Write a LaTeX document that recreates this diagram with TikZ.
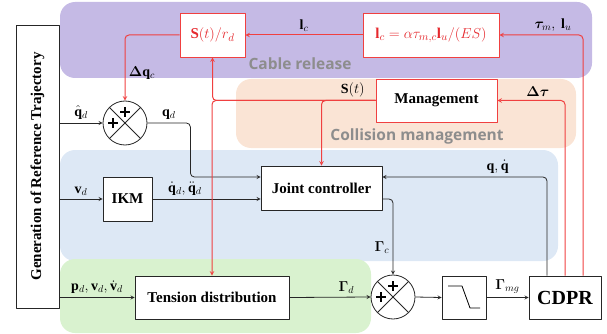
\documentclass[tikz,border=0pt]{standalone}
\usepackage{fontspec}
\setmainfont{Liberation Serif}
\setsansfont{Open Sans}
\usepackage{bm}
\usetikzlibrary{calc}
\definecolor{lila}{RGB}{197,186,229}
\definecolor{peach}{RGB}{250,228,213}
\definecolor{sky}{RGB}{221,232,245}
\definecolor{mint}{RGB}{217,242,207}
\definecolor{lred}{RGB}{240,64,64}
\definecolor{dred}{RGB}{230,40,45}
\definecolor{tgray}{RGB}{128,128,128}
\begin{document}
\begin{tikzpicture}[x=1pt, y=-1pt, font=\fontsize{14}{16}\selectfont, line join=round, >=stealth,
		blk/.style={draw=black!85, fill=white, line width=0.8pt, inner sep=0pt, font=\fontsize{15}{17}\selectfont\bfseries},
		rbox/.style={blk, draw=lred},
		sum/.style={circle, draw=black!85, fill=white, line width=0.8pt, minimum size=44, inner sep=0pt,
			path picture={\draw[line width=0.8pt] (path picture bounding box.north east) -- (path picture bounding box.south west)
				(path picture bounding box.north west) -- (path picture bounding box.south east);}},
		pls/.pic={\draw[line width=1.4pt] (-5,0) -- (5,0) (0,-5) -- (0,5);},
		arr/.style={->, draw=black!85, line width=0.8pt, rounded corners=4},
		rarr/.style={->, draw=lred, line width=1pt, rounded corners=4},
		area/.style={font=\fontsize{15.5}{18}\selectfont\sffamily\bfseries, text=tgray!90}]
	\useasboundingbox (0,0) rectangle (607,334);
	% coloured areas
	\fill[lila, rounded corners=15] (60,2) rectangle (592,78);
	\fill[peach, rounded corners=15] (236,79) rectangle (576,148);
	\fill[sky, rounded corners=15] (60,150) rectangle (558,261);
	\fill[mint, rounded corners=15] (60,259) rectangle (371,333);
	\node[area] at (300,64) {Cable release};
	\node[area] at (417,136) {Collision management};
	% blocks
	\node[blk, minimum width=43, minimum height=283] (gen) at (37.5,166.5) {\rotatebox{90}{Generation of Reference Trajectory}};
	\node[rbox, minimum width=65, minimum height=44, text=dred] (sr) at (212.5,35) {$\mathbf{S}(t)/r_d$};
	\node[rbox, minimum width=136, minimum height=44, text=dred] (lc) at (431,35) {$\mathbf{l}_c=\alpha\tau_{m,c}\mathbf{l}_u/(ES)$};
	\node[rbox, minimum width=121, minimum height=43] (mg) at (436.5,100.5) {Management};
	\node[sum] (s1) at (125,123) {};
	\pic at ($(s1)+(0,-11)$) {pls};
	\pic at ($(s1)+(-12,0)$) {pls};
	\node[blk, minimum width=49, minimum height=44] (ikm) at (127.5,199) {IKM};
	\node[blk, minimum width=121, minimum height=44] (jc) at (321.5,188) {Joint controller};
	\node[blk, minimum width=154, minimum height=43] (td) at (212,297.5) {Tension distribution};
	\node[sum] (s2) at (393,297) {};
	\pic at ($(s2)+(0,-11)$) {pls};
	\pic at ($(s2)+(-12,0)$) {pls};
	\node[blk, minimum width=44, minimum height=43] (fl) at (464,297.5) {};
	\draw[line width=0.8pt] (fl.center) ++(-16,-11.5) -- ++(14,0) -- ++(8,22) -- ++(10,0);
	\node[blk, minimum width=72, minimum height=43, font=\fontsize{20}{22}\selectfont\bfseries] (cd) at (565,297.5) {CDPR};
	% signals
	\draw[arr] (gen.east |- s1) -- node[above]{$\hat{\mathbf{q}}_d$} (s1.west);
	\draw[arr] (s1.east) -- node[above]{$\mathbf{q}_d$} ++(43,0) |- ([yshift=11pt]jc.west);
	\draw[arr] (gen.east |- ikm) -- node[above]{$\mathbf{v}_d$} (ikm.west);
	\draw[arr] (ikm.east) -- node[above, pos=0.3]{$\dot{\mathbf{q}}_d,\ddot{\mathbf{q}}_d$} (ikm.east -| jc.west);
	\draw[arr] (gen.east |- td) -- node[above]{$\mathbf{p}_d,\mathbf{v}_d,\dot{\mathbf{v}}_d$} (td.west);
	\draw[arr] (td.east) -- node[above, pos=0.7]{$\bm{\Gamma}_d$} (s2.west);
	\draw[arr] ([yshift=-11pt]jc.east) -| node[left, pos=0.82]{$\bm{\Gamma}_c$} (s2.north);
	\draw[arr] (s2.east) -- (fl.west);
	\draw[arr] (fl.east) -- node[above]{$\bm{\Gamma}_{mg}$} (cd.west);
	\draw[arr] ([xshift=-18pt]cd.north) |- node[above, pos=0.65]{$\mathbf{q},\dot{\mathbf{q}}$} ([yshift=11pt]jc.east);
	% cable release and collision signals
	\draw[rarr] (cd.north) |- node[above, pos=0.7]{$\bm{\Delta\tau}$} (mg.east);
	\draw[rarr] ([xshift=18pt]cd.north) |- node[above, pos=0.68]{$\bm{\tau}_m,\ \mathbf{l}_u$} (lc.east);
	\draw[rarr] (lc.west) -- node[above]{$\mathbf{l}_c$} (sr.east);
	\draw[rarr] (sr.west) -| node[right, pos=0.79]{$\bm{\Delta}\mathbf{q}_c$} (s1.north);
	\draw[rarr] (mg.west) -| node[above, pos=0.07]{$\mathbf{S}(t)$} (sr.south);
	\draw[rarr] (mg.west) -| (td.north);
	\draw[rarr] (mg.west) -| (jc.north);
\end{tikzpicture}
\end{document}
